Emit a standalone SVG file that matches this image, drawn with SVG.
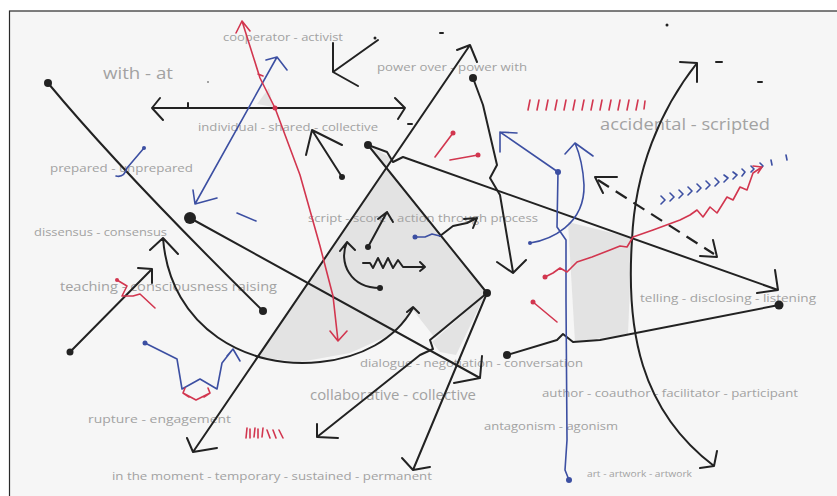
<svg xmlns="http://www.w3.org/2000/svg" width="837" height="496" viewBox="0 0 837 496">
<style>
.t{font-family:"Open Sans","Liberation Sans",sans-serif;fill:#a2a2a2}
.k{fill:none;stroke:#222;stroke-width:2;stroke-linecap:round;stroke-linejoin:round}
.kd{fill:none;stroke:#222;stroke-width:2.2;stroke-dasharray:13 8}
.r{fill:none;stroke:#d2364f;stroke-width:1.6;stroke-linecap:round;stroke-linejoin:round}
.b{fill:none;stroke:#3c4fa2;stroke-width:1.6;stroke-linecap:round;stroke-linejoin:round}
.dk{fill:#222}
.dr{fill:#d2364f}
.db{fill:#3c4fa2}
.sh{fill:#e3e3e3}
</style>
<rect x="0" y="0" width="837" height="496" fill="#ffffff"/>
<rect x="9.5" y="11" width="840" height="500" fill="#f6f6f6" stroke="#2a2a2a" stroke-width="1.2"/>

<g id="shading">
<polygon class="sh" points="387,168 487,293 435,338 413,310 390,335 350,353 300,362 256,357"/>
<polygon class="sh" points="432,342 485,295 456,355 440,352"/>
<polygon class="sh" points="568,222 632,238 628,334 575,342"/>
<polygon class="sh" points="257,104 269,88 273,107"/>
<polygon class="sh" points="372,147 394,160 386,168"/>
</g>

<g id="labels">
<g id="l-cooperator"><text class="t" x="223" y="41" font-size="11" textLength="120" lengthAdjust="spacingAndGlyphs">cooperator - activist</text></g>
<g id="l-withat"><text class="t" x="103" y="79" font-size="17" textLength="70" lengthAdjust="spacingAndGlyphs">with - at</text></g>
<g id="l-power"><text class="t" x="377" y="71" font-size="11" textLength="150" lengthAdjust="spacingAndGlyphs">power over - power with</text></g>
<g id="l-individual"><text class="t" x="198" y="131" font-size="11.5" textLength="180" lengthAdjust="spacingAndGlyphs">individual - shared - collective</text></g>
<g id="l-accidental"><text class="t" x="600" y="130" font-size="16" textLength="170" lengthAdjust="spacingAndGlyphs">accidental - scripted</text></g>
<g id="l-prepared"><text class="t" x="50" y="172" font-size="11" textLength="143" lengthAdjust="spacingAndGlyphs">prepared - unprepared</text></g>
<g id="l-script"><text class="t" x="308" y="222" font-size="11.5" textLength="230" lengthAdjust="spacingAndGlyphs">script - score - action through process</text></g>
<g id="l-dissensus"><text class="t" x="34" y="236" font-size="11" textLength="133" lengthAdjust="spacingAndGlyphs">dissensus - consensus</text></g>
<g id="l-teaching"><text class="t" x="60" y="291" font-size="13.5" textLength="217" lengthAdjust="spacingAndGlyphs">teaching - consciousness raising</text></g>
<g id="l-telling"><text class="t" x="640" y="302" font-size="11" textLength="176" lengthAdjust="spacingAndGlyphs">telling - disclosing - listening</text></g>
<g id="l-dialogue"><text class="t" x="360" y="367" font-size="11.5" textLength="223" lengthAdjust="spacingAndGlyphs">dialogue - negotiation - conversation</text></g>
<g id="l-collaborative"><text class="t" x="310" y="400" font-size="14" textLength="166" lengthAdjust="spacingAndGlyphs">collaborative - collective</text></g>
<g id="l-author"><text class="t" x="542" y="397" font-size="11.5" textLength="256" lengthAdjust="spacingAndGlyphs">author - coauthor - facilitator - participant</text></g>
<g id="l-antagonism"><text class="t" x="484" y="430" font-size="11.5" textLength="134" lengthAdjust="spacingAndGlyphs">antagonism - agonism</text></g>
<g id="l-rupture"><text class="t" x="88" y="423" font-size="11.5" textLength="143" lengthAdjust="spacingAndGlyphs">rupture - engagement</text></g>
<g id="l-moment"><text class="t" x="112" y="480" font-size="11.5" textLength="320" lengthAdjust="spacingAndGlyphs">in the moment - temporary - sustained - permanent</text></g>
<g id="l-art"><text class="t" x="587" y="477" font-size="8.5" textLength="105" lengthAdjust="spacingAndGlyphs">art - artwork - artwork</text></g>
</g>

<g id="connectors">
<path class="k" d="M48,83 Q120,170 263,311"/>
<circle class="dk" cx="48" cy="83" r="4"/>
<circle class="dk" cx="263" cy="311" r="4"/>
<path class="k" d="M190,218 L480,378 M482,356 L480,378 L454,383"/>
<circle class="dk" cx="190" cy="218" r="6"/>
<path class="k" d="M163,238 C170,330 250,370 320,362 C360,358 395,340 413,308 M150,250 L163,238 L178,254 M407,312 L413,307 L419,313"/>
<path class="k" d="M70,352 L152,269 M138,268 L152,269 L152,283"/>
<circle class="dk" cx="70" cy="352" r="3.5"/>
<path class="k" d="M152,108 L405,108 M160,98 L152,108 L163,120 M395,98 L405,108 L398,119 M188,103 L188,107"/>
<path class="k" d="M333,43 L333,72 L378,40 M333,72 L358,86"/>
<circle class="dk" cx="375" cy="38" r="1.5"/>
<path class="k" d="M342,177 L312,130 M306,155 L312,130 L342,145"/>
<circle class="dk" cx="342" cy="177" r="3"/>
<path class="k" d="M193,452 L470,45 M457,50 L470,45 L477,62 M187,438 L193,452 L217,448"/>
<path class="k" d="M368,145 L487,293"/>
<path class="k" d="M368,145 L387,152 L393,162 L403,157 L778,290 M775,270 L778,290 L757,293"/>
<circle class="dk" cx="368" cy="145" r="4"/>
<circle class="dk" cx="487" cy="293" r="4"/>
<path class="k" d="M487,293 L413,470 M402,458 L413,470 L430,467"/>
<path class="k" d="M487,293 L430,340 L433,349 L420,355 L317,437 M317,424 L317,437 L338,438"/>
<path class="k" d="M507,355 L557,340 L563,334 L573,342 L600,340 L779,305"/>
<circle class="dk" cx="507" cy="355" r="4"/>
<circle class="dk" cx="779" cy="305" r="4.5"/>
<path class="k" d="M473,78 L483,105 L497,165 L490,178 L500,195 L513,272 M497,262 L513,273 L526,260"/>
<circle class="dk" cx="473" cy="78" r="4"/>
<path class="k" d="M697,63 C660,110 635,170 632,240 C626,330 640,410 714,466 M680,62 L697,63 L697,82 M700,468 L714,466 L717,451"/>
<path class="kd" d="M598,180 L714,254"/>
<path class="k" d="M617,177 L595,177 L603,193 M713,240 L717,257 L700,256"/>
<path class="k" d="M368,247 L387,212 M378,219 L387,212 L393,222"/>
<circle class="dk" cx="368" cy="247" r="3"/>
<path class="k" d="M380,288 C350,288 338,262 347,242 M340,251 L347,242 L355,250"/>
<circle class="dk" cx="380" cy="288" r="3"/>
<path class="k" d="M363,263 L370,263 L373,268 L378,258 L383,268 L388,258 L393,268 L398,260 L403,267 L425,267 M420,262 L425,267 L420,271"/>
<path class="k" d="M440,236 L453,226 L467,223 L477,218 M464,219 L477,218 L473,228"/>
<path class="b" d="M415,237 L425,237 L432,234 L440,236"/>
<circle class="db" cx="415" cy="237" r="2.5"/>
<path class="b" d="M195,204 L277,57 M266,60 L277,57 L287,70 M193,190 L195,204 L217,198"/>
<path class="b" d="M144,148 L127,168 Q124,178 116,176"/>
<circle class="db" cx="144" cy="148" r="2"/>
<path class="b" d="M237,213 L256,221" stroke="#2d3a78" stroke-width="2"/>
<path class="b" d="M145,343 L177,359 L182,389 L200,379 L217,389 L222,363 L233,349 M227,356 L233,349 L240,361"/>
<circle class="db" cx="145" cy="343" r="2.5"/>
<path class="b" d="M558,172 L500,132 M500,152 L500,132 L517,133"/>
<path class="b" d="M558,172 L557,227 L566,240 L566,300 L567,440 L565,470 L569,480"/>
<circle class="db" cx="558" cy="172" r="3"/>
<circle class="db" cx="569" cy="480" r="3"/>
<path class="b" d="M530,243 C550,240 585,225 584,185 C583,165 578,150 575,143 M565,154 L575,143 L593,156"/>
<circle class="db" cx="530" cy="243" r="2"/>
<path class="b" stroke-width="1.8" d="M661,196 L665,200 L661,204 M670,193 L674,197 L670,201 M679,190 L683,194 L679,198 M688,187 L692,191 L688,195 M697,184 L701,188 L697,192 M706,181 L710,185 L706,189 M715,178 L719,182 L715,186 M724,175 L728,178 L724,182 M733,172 L737,175 L733,179 M742,169 L745,172 L742,176 M751,166 L754,169 L751,172 M760,163 L763,166 L760,169 M771,160 L772,165 M786,155 L787,160"/>
<path class="r" d="M242,21 L260,78 L275,108 L300,175 L320,246 L333,296 L338,341 M236,33 L242,21 L250,31 M330,331 L338,341 L347,331 M258,74 L263,76"/>
<circle class="dr" cx="275" cy="108" r="2.5"/>
<path class="r" d="M453,133 L435,157 M478,155 L450,160"/>
<circle class="dr" cx="453" cy="133" r="2.5"/>
<circle class="dr" cx="478" cy="155" r="2.5"/>
<path class="r" d="M528,110 L530,100 M537,110 L539,100 M546,110 L548,100 M555,110 L557,100 M564,110 L566,100 M573,110 L575,100 M582,110 L584,100 M591,110 L593,100 M600,110 L602,100 M609,110 L611,100 M618,110 L620,100 M627,110 L629,100 M636,110 L638,100 M644,109 L645,101" stroke-width="2"/>
<path class="r" d="M545,277 L553,273 L560,268 L567,272 L577,262 L592,257 L610,250 L620,246 L627,247 L633,237 L653,230 L680,220 L690,215 L697,210 L703,217 L710,207 L717,213 L727,197 L733,200 L740,187 L747,190 L753,173 L762,167 M753,166 L762,167 L758,173"/>
<circle class="dr" cx="545" cy="277" r="2.5"/>
<path class="r" d="M533,302 L557,322"/>
<circle class="dr" cx="533" cy="302" r="2.5"/>
<path class="r" d="M117,280 L127,286 L122,296 L133,296 L140,294 L155,308"/>
<circle class="dr" cx="117" cy="280" r="2"/>
<path class="r" d="M183,393 L196,400 L210,393 M185,388 L183,393 L189,397 M208,388 L210,393 L204,397"/>
<path class="r" d="M246,438 L247,428 M250,438 L250,429 M254,437 L255,428 M258,438 L258,429 M262,437 L263,428 M267,430 L270,438 M273,430 L276,438 M279,430 L283,438" stroke-width="1.5"/>
<circle class="dk" cx="667" cy="25" r="1.5"/>
<path class="k" d="M716,62 L722,62 M758,82 L762,82 M440,33 L443,33 M408,124 L412,124" stroke-width="1.5"/>
<circle cx="208" cy="82" r="1" fill="#888"/>
</g>
</svg>
